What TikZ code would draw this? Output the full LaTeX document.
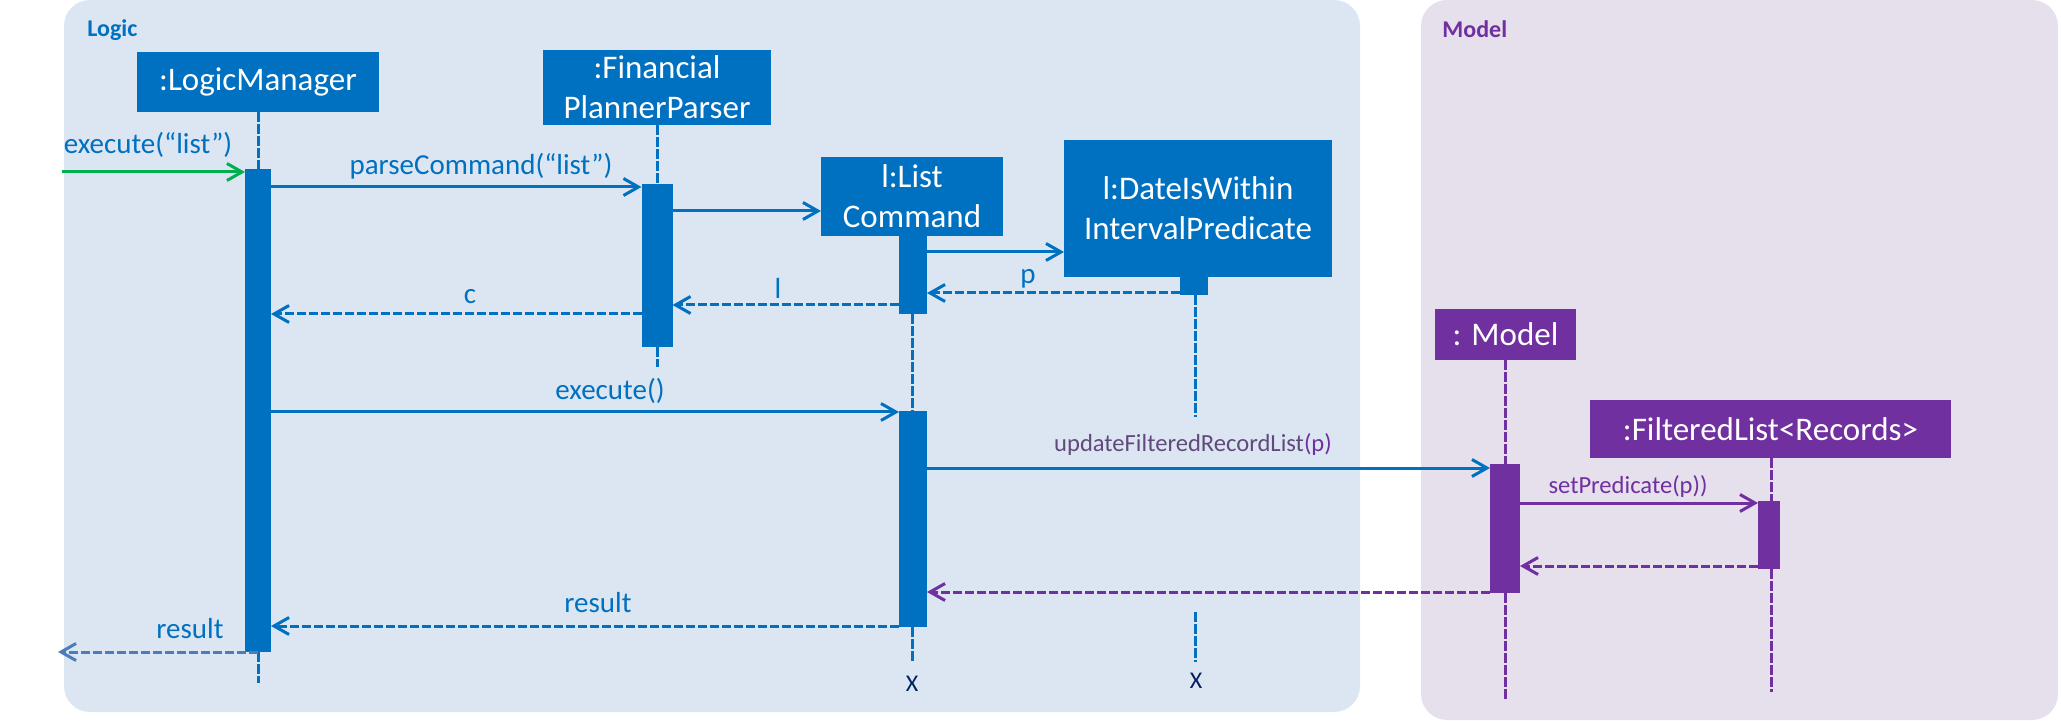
\documentclass[tikz,border=0pt]{standalone}
\usepackage{fontspec}
\setmainfont{Carlito}
\usetikzlibrary{arrows.meta}
\definecolor{cblue}{HTML}{0070C0}
\definecolor{cpurple}{HTML}{7030A0}
\definecolor{cgreen}{HTML}{00B050}
\definecolor{cpgray}{HTML}{604A7B}
\definecolor{cnavy}{HTML}{002060}
\definecolor{csteel}{HTML}{4A7EBB}
\definecolor{logicbg}{HTML}{DCE6F2}
\definecolor{modelbg}{HTML}{E5E0EC}
\begin{document}
\begin{tikzpicture}[x=0.5pt,y=-0.5pt,
  obj/.style={fill=cblue, text=white, inner sep=0pt, outer sep=0pt, align=center,
    font=\fontsize{16.5}{20}\selectfont},
  objm/.style={obj, fill=cpurple},
  act/.style={fill=cblue, inner sep=0pt, outer sep=0pt},
  actm/.style={act, fill=cpurple},
  msg/.style={line width=1.5pt, -{Straight Barb[length=7.5pt,width=8.5pt]}},
  ret/.style={msg, dash pattern=on 4.5pt off 1.5pt},
  life/.style={line width=1.5pt, dash pattern=on 4.8pt off 1.2pt},
  lbl/.style={inner sep=0pt, text=cblue, font=\fontsize{14.5}{17}\selectfont},
  slbl/.style={inner sep=0pt, font=\fontsize{12.3}{15}\selectfont},
  plbl/.style={inner sep=0pt, font=\bfseries\fontsize{12}{14}\selectfont},
  xlbl/.style={inner sep=0pt, text=cnavy, font=\fontsize{12}{14}\selectfont}
]
\useasboundingbox (0,0) rectangle (2061,721);
% panels
\fill[logicbg, rounded corners=13pt] (64,0) rectangle (1360,712);
\fill[modelbg, rounded corners=13pt] (1421,0) rectangle (2058,720);
\node[plbl, text=cblue, anchor=base west] (tlogic) at (87,37) {Logic};
\node[plbl, text=cpurple, anchor=base west] (tmodel) at (1442,38) {Model};

% objects
\node[obj, minimum width=121pt, minimum height=30pt] (lm) at (258,82) {:LogicManager};
\node[obj, minimum width=114pt, minimum height=37.5pt] (pp) at (657,87.5) {:Financial\\PlannerParser};
\node[obj, minimum width=91pt, minimum height=39.5pt] (lc) at (912,196.5) {l:List\\Command};
\node[obj, minimum width=134pt, minimum height=68.5pt] (pr) at (1198,208.5) {l:DateIsWithin\\IntervalPredicate};
\node[objm, minimum width=70.5pt, minimum height=25.5pt] (md) at (1505.5,334.5) {: Model};
\node[objm, minimum width=180.5pt, minimum height=29pt] (fl) at (1770.5,429) {:FilteredList<Records>};

% activations
\node[act, minimum width=13pt, minimum height=241.5pt] (alm) at (258,410.5) {};
\node[act, minimum width=15.5pt, minimum height=81.5pt] (app) at (657,265.5) {};
\node[act, minimum width=14pt, minimum height=39pt] (alc1) at (913,275) {};
\node[act, minimum width=14pt, minimum height=108pt] (alc2) at (913,519) {};
\node[act, minimum width=14pt, minimum height=9pt] (apr) at (1194,286) {};
\node[actm, minimum width=15pt, minimum height=64.5pt] (amd) at (1505,528.5) {};
\node[actm, minimum width=11pt, minimum height=34pt] (afl) at (1769,535) {};

% free ends
\coordinate (lmEnd) at (258,683);
\coordinate (ppEnd) at (657,367);
\coordinate (lcEnd) at (912,662);
\coordinate (prMid) at (1195,417);
\coordinate (prRes) at (1195,612);
\coordinate (prEnd) at (1195,662);
\coordinate (mdEnd) at (1505,700);
\coordinate (flEnd) at (1771,692);
\coordinate (inStart) at (62,172);
\coordinate (outEnd) at (58,652);

% lifelines
\draw[life, cblue] (lm.south) -- (alm.north);
\draw[life, cblue] (alm.south) -- (lmEnd);
\draw[life, cblue] (pp.south) -- (app.north);
\draw[life, cblue] (app.south) -- (ppEnd);
\draw[life, cblue] (alc1.south -| lcEnd) -- (alc2.north -| lcEnd);
\draw[life, cblue] (alc2.south -| lcEnd) -- (lcEnd);
\draw[life, cblue] (apr.south -| prMid) -- (prMid);
\draw[life, cblue] (prRes) -- (prEnd);
\draw[life, cpurple] (md.south -| amd) -- (amd.north);
\draw[life, cpurple] (amd.south) -- (mdEnd);
\draw[life, cpurple] (fl.south -| flEnd) -- (afl.north -| flEnd);
\draw[life, cpurple] (afl.south -| flEnd) -- (flEnd);

% messages
\draw[msg, cgreen] (inStart) -- (alm.west |- inStart);
\node[lbl] (l1) at (148,145) {execute(“list”)};
\draw[msg, cblue] (alm.east |- 0,187) -- (app.west |- 0,187);
\node[lbl] (l2) at (481,166) {parseCommand(“list”)};
\draw[msg, cblue] (app.east |- 0,211) -- (lc.west |- 0,211);
\draw[msg, cblue] (alc1.east |- 0,252) -- (pr.west |- 0,252);
\draw[ret, cblue] (apr.west |- 0,293) -- (alc1.east |- 0,293);
\node[lbl] (l3) at (1028,279) {p};
\draw[ret, cblue] (alc1.west |- 0,305) -- (app.east |- 0,305);
\node[lbl] (l4) at (778,288) {l};
\draw[ret, cblue] (app.west |- 0,314) -- (alm.east |- 0,314);
\node[lbl] (l5) at (470,297) {c};
\draw[msg, cblue] (alm.east |- 0,412) -- (alc2.west |- 0,412);
\node[lbl] (l6) at (610,391) {execute()};
\draw[msg, cblue] (alc2.east |- 0,468) -- (amd.west |- 0,468);
\node[slbl] (l7) at (1193,444) {\textcolor{cpgray}{updateFilteredRecordList}\textcolor{cpurple}{(p)}};
\draw[msg, cpurple] (amd.east |- 0,503) -- (afl.west |- 0,503);
\node[slbl, text=cpurple] (l8) at (1628,486) {setPredicate(p))};
\draw[ret, cpurple] (afl.west |- 0,566) -- (amd.east |- 0,566);
\draw[ret, cpurple] (amd.west |- 0,592) -- (alc2.east |- 0,592);
\draw[ret, cblue] (alc2.west |- 0,626) -- (alm.east |- 0,626);
\node[lbl] (l9) at (598,602.5) {result};
\draw[ret, csteel] (alm.south) -- (outEnd);
\node[lbl] (l10) at (190,629) {result};

% destruction marks
\node[xlbl] (x1) at (912,683.5) {X};
\node[xlbl] (x2) at (1196,680.5) {X};
\end{tikzpicture}
\end{document}
